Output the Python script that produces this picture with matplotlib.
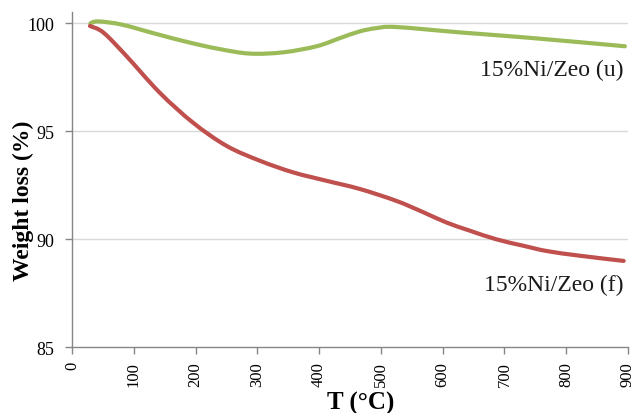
import numpy as np
import matplotlib
matplotlib.use("Agg")
import matplotlib.pyplot as plt
from matplotlib.path import Path
from matplotlib.patches import PathPatch

# TGA curves: temperature (°C) vs remaining weight (%)
t_u = [30, 43, 81, 135, 189, 237, 288, 342, 396, 434, 466, 493, 525, 633, 741, 895]
w_u = [100.01, 100.09, 99.94, 99.52, 99.12, 98.82, 98.6, 98.66, 98.94, 99.32, 99.63, 99.78, 99.83, 99.57, 99.33, 98.94]

t_f = [29, 51, 88, 142, 196, 250, 304, 358, 412, 466, 525, 569, 606, 644, 687, 731, 768, 822, 893]
w_f = [99.88, 99.57, 98.49, 96.79, 95.4, 94.33, 93.64, 93.1, 92.71, 92.33, 91.78, 91.25, 90.78, 90.4, 90.0, 89.7, 89.46, 89.24, 89.0]

label_u = "15%Ni/Zeo (u)"
label_f = "15%Ni/Zeo (f)"
x_ticks = [0, 100, 200, 300, 400, 500, 600, 700, 800, 900]
y_ticks = [85, 90, 95, 100]

GREEN = "#9BBB59"
RED = "#C0504D"
AXIS_GRAY = "#868686"

plt.rcParams["font.family"] = ["Liberation Serif", "DejaVu Serif"]


def smooth_path(xs, ys):
    """Catmull-Rom style Bezier path through the points (smoothed line)."""
    pts = np.column_stack([xs, ys]).astype(float)
    verts = [pts[0]]
    codes = [Path.MOVETO]
    n = len(pts)
    for i in range(n - 1):
        p0 = pts[i - 1] if i > 0 else pts[i]
        p1 = pts[i]
        p2 = pts[i + 1]
        p3 = pts[i + 2] if i + 2 < n else pts[i + 1]
        c1 = p1 + (p2 - p0) / 6.0
        c2 = p2 - (p3 - p1) / 6.0
        verts += [c1, c2, p2]
        codes += [Path.CURVE4] * 3
    return Path(verts, codes)


fig = plt.figure(figsize=(6.39, 4.14), dpi=100)
ax = fig.add_axes([72 / 639, 1 - 348.3 / 414, 556 / 639, (348.3 - 12.7) / 414])

ax.set_xlim(0, 900)
ax.set_ylim(85, 100.54)
ax.set_xticks(x_ticks)
ax.set_yticks(y_ticks)

for y in y_ticks[1:]:
    ax.axhline(y, color="#D9D9D9", lw=1.0, zorder=0)

for xs, ys, c in [(t_u, w_u, GREEN), (t_f, w_f, RED)]:
    ax.add_patch(PathPatch(smooth_path(xs, ys), facecolor="none", edgecolor=c,
                           lw=3.0, capstyle="round", joinstyle="round", zorder=3))

for side in ("top", "right"):
    ax.spines[side].set_visible(False)
for side in ("left", "bottom"):
    ax.spines[side].set_color(AXIS_GRAY)
    ax.spines[side].set_linewidth(1.0)

ax.tick_params(axis="both", direction="out", length=5, width=1.0, color=AXIS_GRAY)
ax.tick_params(axis="y", labelsize=13, pad=8)
ax.tick_params(axis="x", labelsize=12, pad=5, labelrotation=90)

ax.text(892, 97.63, label_u, ha="right", va="baseline", fontsize=17, color="#1a1a1a")
ax.text(892, 87.65, label_f, ha="right", va="baseline", fontsize=17, color="#1a1a1a")

fig.text(23 / 639, 1 - 201 / 414, "Weight loss (%)", rotation=90, ha="center",
         va="center", fontsize=17, fontweight="bold")
fig.text(361 / 639, 1 - 410 / 414, "T (°C)", ha="center", va="baseline",
         fontsize=18, fontweight="bold")

fig.savefig("out.png", dpi=100)
